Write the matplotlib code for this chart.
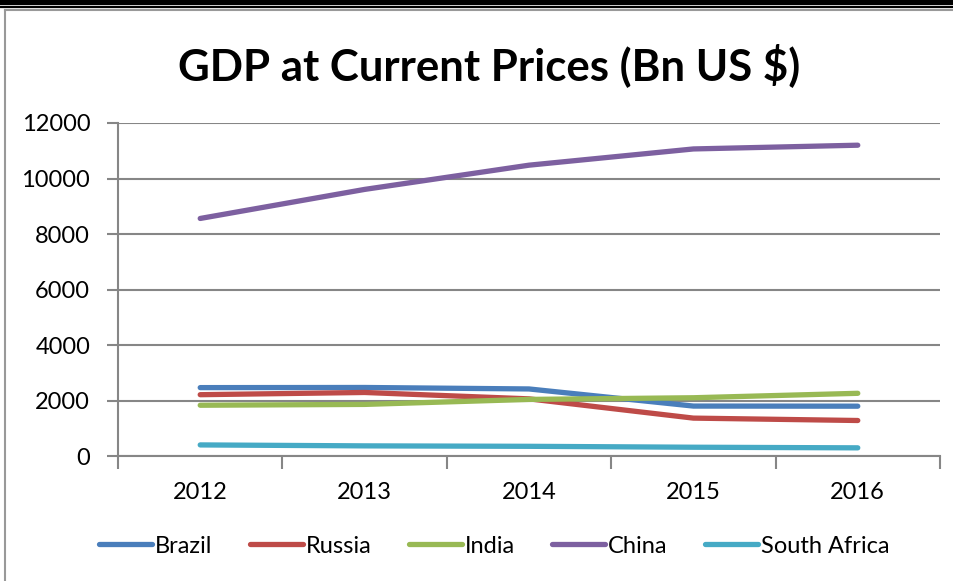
import matplotlib.pyplot as plt
from matplotlib.lines import Line2D

years = ['2012', '2013', '2014', '2015', '2016']
brazil = [2465, 2470, 2417, 1800, 1796]
russia = [2210, 2290, 2060, 1366, 1280]
india = [1830, 1860, 2040, 2100, 2260]
china = [8560, 9607, 10480, 11065, 11200]
south_africa = [400, 366, 350, 317, 295]

series = [('Brazil', brazil, '#4A7EBB'),
          ('Russia', russia, '#BE4B48'),
          ('India', india, '#98B954'),
          ('China', china, '#7D60A0'),
          ('South Africa', south_africa, '#46AAC5')]

plt.rcParams['font.family'] = ['Lato', 'DejaVu Sans']

fig = plt.figure(figsize=(9.54, 5.81), dpi=100)
ax = fig.add_axes([0.1237, 0.2151, 0.8616, 0.5732])

x = list(range(len(years)))
for name, vals, col in series:
    ax.plot(x, vals, color=col, lw=3.8, solid_capstyle='round', label=name)

ax.set_xlim(-0.5, 4.5)
ax.set_ylim(0, 12000)
ax.set_yticks(range(0, 12001, 2000))
ax.set_xticks(x)
ax.set_xticklabels(years)
ax.set_xticks([i - 0.5 for i in range(6)], minor=True)
ax.tick_params(axis='x', which='major', length=0, pad=19, labelsize=17)
ax.tick_params(axis='x', which='minor', length=9, width=1.5, color='#868686', direction='out')
ax.tick_params(axis='y', length=8, width=1.5, color='#868686', labelsize=17, pad=12)
ax.grid(axis='y', color='#868686', lw=1.5)
ax.set_axisbelow(True)
for s in ['top', 'right']:
    ax.spines[s].set_visible(False)
for s in ['left', 'bottom']:
    ax.spines[s].set_color('#868686')
    ax.spines[s].set_linewidth(1.5)

fig.text(0.513, 0.888, 'GDP at Current Prices (Bn US $)', ha='center', va='center',
         fontsize=31.5, fontweight='bold')

handles = [Line2D([], [], color=c, lw=3.8, solid_capstyle='round') for _, _, c in series]
fig.legend(handles, [n for n, _, _ in series], loc='center', bbox_to_anchor=(0.518, 0.06),
           ncol=5, frameon=False, fontsize=17, handlelength=2.25, handletextpad=0.1,
           columnspacing=1.6)

# page border lines
for yy, lw in [(0.9985, 2.2), (0.9935, 1.6), (0.9885, 1.6)]:
    fig.add_artist(Line2D([0, 1], [yy, yy], color='black', lw=lw, transform=fig.transFigure))
fig.add_artist(Line2D([0.0055, 0.0055], [0, 0.982], color='#999999', lw=1.5, transform=fig.transFigure))
fig.add_artist(Line2D([0.0055, 1], [0.982, 0.982], color='#999999', lw=1.5, transform=fig.transFigure))

fig.savefig('out.png', dpi=100)
